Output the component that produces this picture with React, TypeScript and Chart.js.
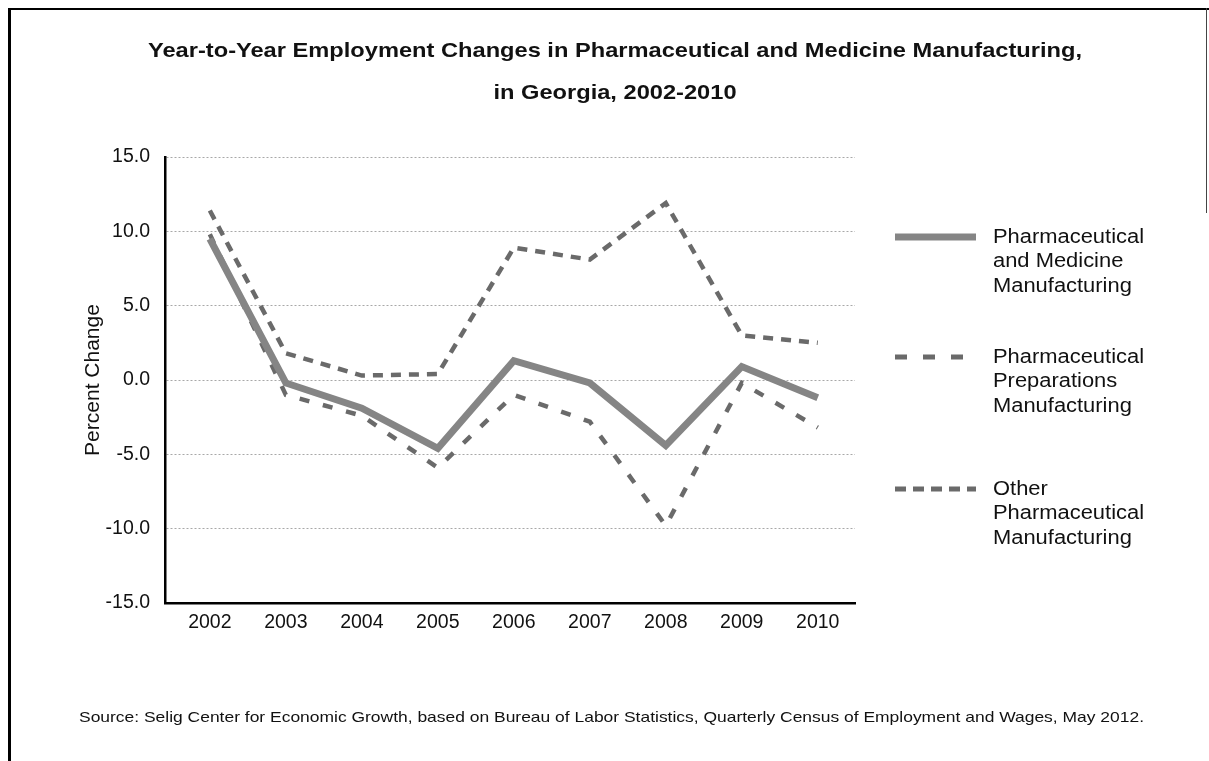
import React, { useEffect, useRef } from "react";
import { Chart, registerables } from "chart.js";

Chart.register(...registerables);

const years = ["2002", "2003", "2004", "2005", "2006", "2007", "2008", "2009", "2010"];
const pharmaMedicine = [9.5, -0.2, -1.9, -4.6, 1.3, -0.2, -4.4, 0.9, -1.2];
const pharmaPreparations = [9.8, -1.0, -2.4, -5.9, -1.0, -2.8, -9.8, -0.2, -3.2];
const otherPharma = [11.4, 1.8, 0.3, 0.4, 8.9, 8.1, 11.9, 3.0, 2.5];
const seriesLabels = [
  ["Pharmaceutical", "and Medicine", "Manufacturing"],
  ["Pharmaceutical", "Preparations", "Manufacturing"],
  ["Other", "Pharmaceutical", "Manufacturing"],
];
const titleLines = [
  "Year-to-Year Employment Changes in Pharmaceutical and Medicine Manufacturing,",
  "in Georgia, 2002-2010",
];
const sourceText =
  "Source: Selig Center for Economic Growth, based on Bureau of Labor Statistics, Quarterly Census of Employment and Wages, May 2012.";

const FONT = "'Liberation Sans', Arial, Helvetica, sans-serif";

function drawScaled(
  ctx: CanvasRenderingContext2D,
  text: string,
  x: number,
  y: number,
  sx: number,
  align: CanvasTextAlign
) {
  ctx.save();
  ctx.translate(x, y);
  ctx.scale(sx, 1);
  ctx.textAlign = align;
  ctx.fillText(text, 0, 0);
  ctx.restore();
}

const decorPlugin = {
  id: "decor",
  afterDraw(chart: any) {
    const ctx = chart.ctx as CanvasRenderingContext2D;
    ctx.save();
    ctx.fillStyle = "#111";
    ctx.textBaseline = "middle";
    // Title
    ctx.font = `bold 21px ${FONT}`;
    const tScale = 934 / ctx.measureText(titleLines[0]).width;
    drawScaled(ctx, titleLines[0], 615, 51, tScale, "center");
    drawScaled(ctx, titleLines[1], 615, 93, tScale, "center");
    // Source
    ctx.font = `15px ${FONT}`;
    const sScale = 1065 / ctx.measureText(sourceText).width;
    drawScaled(ctx, sourceText, 79, 718, sScale, "left");
    // Legend
    const ys = [237, 357, 489];
    const styles = [
      { dash: [] as number[], width: 7, color: "#858585" },
      { dash: [12, 16], width: 5, color: "#6a6a6a" },
      { dash: [11, 7], width: 5, color: "#6a6a6a" },
    ];
    ctx.font = `20px ${FONT}`;
    const lScale = 151 / ctx.measureText("Pharmaceutical").width;
    ys.forEach((y, i) => {
      const s = styles[i];
      ctx.beginPath();
      ctx.setLineDash(s.dash);
      ctx.lineWidth = s.width;
      ctx.strokeStyle = s.color;
      ctx.moveTo(895, y);
      ctx.lineTo(976, y);
      ctx.stroke();
      ctx.setLineDash([]);
      seriesLabels[i].forEach((t, j) => {
        drawScaled(ctx, t, 993, y + j * 24.5, lScale, "left");
      });
    });
    ctx.restore();
  },
};

export default function App() {
  const ref = useRef<HTMLCanvasElement>(null);
  useEffect(() => {
    if (!ref.current) return;
    const toPts = (arr: number[]) => arr.map((y, i) => ({ x: i, y }));
    const chart = new Chart(ref.current, {
      type: "line",
      data: {
        datasets: [
          {
            label: seriesLabels[0].join(" "),
            data: toPts(pharmaMedicine),
            borderColor: "#858585",
            borderWidth: 7,
            pointRadius: 0,
            tension: 0,
            order: 0,
          },
          {
            label: seriesLabels[1].join(" "),
            data: toPts(pharmaPreparations),
            borderColor: "#6a6a6a",
            borderWidth: 4.5,
            borderDash: [10, 14],
            pointRadius: 0,
            tension: 0,
            order: 1,
          },
          {
            label: seriesLabels[2].join(" "),
            data: toPts(otherPharma),
            borderColor: "#6a6a6a",
            borderWidth: 4.5,
            borderDash: [10, 8],
            pointRadius: 0,
            tension: 0,
            order: 2,
          },
        ],
      },
      options: {
        animation: false,
        responsive: false,
        layout: { padding: { left: 0, right: 354, top: 157, bottom: 118 } },
        plugins: { legend: { display: false }, title: { display: false }, tooltip: { enabled: false } },
        scales: {
          x: {
            type: "linear",
            min: -0.59,
            max: 8.49,
            grid: { display: false, drawTicks: false },
            border: { display: true, color: "#000", width: 2.5 },
            afterBuildTicks: (s: any) => {
              s.ticks = years.map((_, i) => ({ value: i }));
            },
            ticks: {
              color: "#111",
              font: { family: FONT, size: 19.5 },
              padding: 8,
              maxRotation: 0,
              autoSkip: false,
              callback: (v: any) => years[Math.round(Number(v))] ?? "",
            },
            afterFit: (s: any) => {
              s.height = 40;
            },
          },
          y: {
            min: -15,
            max: 15,
            grid: { color: "#a8a8a8", lineWidth: 1, drawTicks: false },
            border: { display: true, color: "#000", width: 2.5, dash: [2, 2] },
            ticks: {
              stepSize: 5,
              color: "#111",
              font: { family: FONT, size: 19.5 },
              padding: 15,
              callback: (v: any) => Number(v).toFixed(1),
            },
            title: {
              display: true,
              text: "Percent Change",
              color: "#111",
              font: { family: FONT, size: 21 },
              padding: { top: 81, bottom: 0 },
            },
            afterFit: (s: any) => {
              s.width = 165;
            },
          },
        },
      },
      plugins: [decorPlugin],
    });
    return () => chart.destroy();
  }, []);
  return (
    <div style={{ position: "absolute", left: 0, top: 0, width: 1209, height: 761, background: "#fff" }}>
      <div style={{ position: "absolute", left: 8, top: 8, width: 1201, height: 0, borderTop: "2px solid #000" }} />
      <div style={{ position: "absolute", left: 8, top: 8, width: 0, height: 753, borderLeft: "3px solid #000" }} />
      <div style={{ position: "absolute", left: 1206, top: 8, width: 0, height: 205, borderLeft: "1px solid #444" }} />
      <canvas ref={ref} width={1209} height={761} style={{ position: "absolute", left: 0, top: 0 }} />
    </div>
  );
}
